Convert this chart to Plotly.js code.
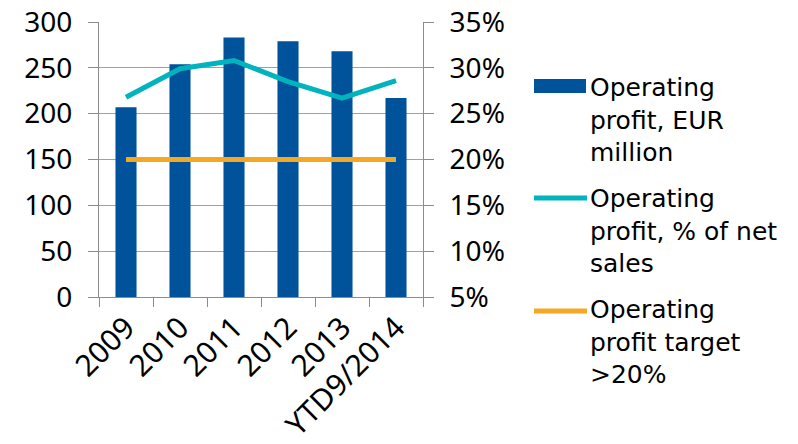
<!DOCTYPE html>
<html>
<head>
<meta charset="utf-8">
<script src="https://cdn.plot.ly/plotly-3.0.1.min.js"></script>
<style>html,body{margin:0;padding:0;background:#fff;}#chart{width:798px;height:444px;}</style>
</head>
<body>
<div id="chart"></div>
<script>
var categories = ["2009", "2010", "2011", "2012", "2013", "YTD9/2014"];
var profitEUR = [207, 254, 283, 279, 268, 217];
var profitPct = [26.8, 29.9, 30.8, 28.5, 26.7, 28.6];
var targetPct = [20, 20, 20, 20, 20, 20];
var seriesNames = ["Operating<br>profit, EUR<br>million", "Operating<br>profit, % of net<br>sales", "Operating<br>profit target<br>>20%"];
var colors = ["#00529B", "#00B3BC", "#F7A823"];

var W = 798, H = 444, mL = 99, mR = 375, mT = 22, mB = 147;
var pw = W - mL - mR, ph = H - mT - mB;
function px(x) { return (x - mL) / pw; }
function py(y) { return (H - mB - y) / ph; }

var traces = [
  {type: "bar", x: categories, y: profitEUR, name: seriesNames[0], marker: {color: colors[0]}, yaxis: "y"},
  {type: "scatter", mode: "lines", x: categories, y: profitPct, name: seriesNames[1], line: {color: colors[1], width: 5}, yaxis: "y2"},
  {type: "scatter", mode: "lines", x: categories, y: targetPct, name: seriesNames[2], line: {color: colors[2], width: 5}, yaxis: "y2"}
];

var axisFont = {family: "Noto Sans, sans-serif", size: 28, color: "#000"};
var legFont = {family: "DejaVu Sans, sans-serif", size: 25, color: "#000"};

var legendY = [120, 231, 342];
var symY = [86, 198, 311];
var annotations = [];
var shapes = [];
for (var i = 0; i < 3; i++) {
  annotations.push({
    xref: "paper", yref: "paper", x: px(589), y: py(legendY[i]),
    xanchor: "left", yanchor: "middle", align: "left", showarrow: false,
    text: seriesNames[i], font: legFont, borderpad: 0
  });
}
shapes.push({type: "rect", xref: "paper", yref: "paper", x0: px(534), x1: px(586), y0: py(93), y1: py(79), fillcolor: colors[0], line: {width: 0}});
shapes.push({type: "line", xref: "paper", yref: "paper", x0: px(534), x1: px(587), y0: py(symY[1]), y1: py(symY[1]), line: {color: colors[1], width: 5}});
shapes.push({type: "line", xref: "paper", yref: "paper", x0: px(534), x1: px(587), y0: py(symY[2]), y1: py(symY[2]), line: {color: colors[2], width: 5}});

var layout = {
  width: W, height: H,
  margin: {l: mL, r: mR, t: mT, b: mB, pad: 0},
  paper_bgcolor: "#fff", plot_bgcolor: "#fff",
  showlegend: false,
  bargap: 0.61,
  xaxis: {
    type: "category", tickson: "boundaries", ticks: "outside", ticklen: 9, tickcolor: "#8c8c8c",
    showline: true, linecolor: "#8c8c8c", linewidth: 1, showgrid: false,
    tickangle: -45, tickfont: {family: "Noto Sans, sans-serif", size: 30, color: "#000"}
  },
  yaxis: {
    range: [0, 300], dtick: 50, tick0: 0, ticks: "outside", ticklen: 10, tickcolor: "#8c8c8c",
    showline: true, linecolor: "#8c8c8c", showgrid: true, gridcolor: "#a0a0a0", gridwidth: 1,
    zeroline: false, tickfont: axisFont, ticklabelstandoff: 10
  },
  yaxis2: {
    range: [5, 35], dtick: 5, tick0: 5, overlaying: "y", side: "right", ticksuffix: "%",
    ticks: "outside", ticklen: 10, tickcolor: "#8c8c8c",
    showline: true, linecolor: "#8c8c8c", showgrid: false, zeroline: false,
    tickfont: axisFont, ticklabelstandoff: 10
  },
  annotations: annotations,
  shapes: shapes
};

Plotly.newPlot("chart", traces, layout, {displayModeBar: false, staticPlot: true});
</script>
</body>
</html>
